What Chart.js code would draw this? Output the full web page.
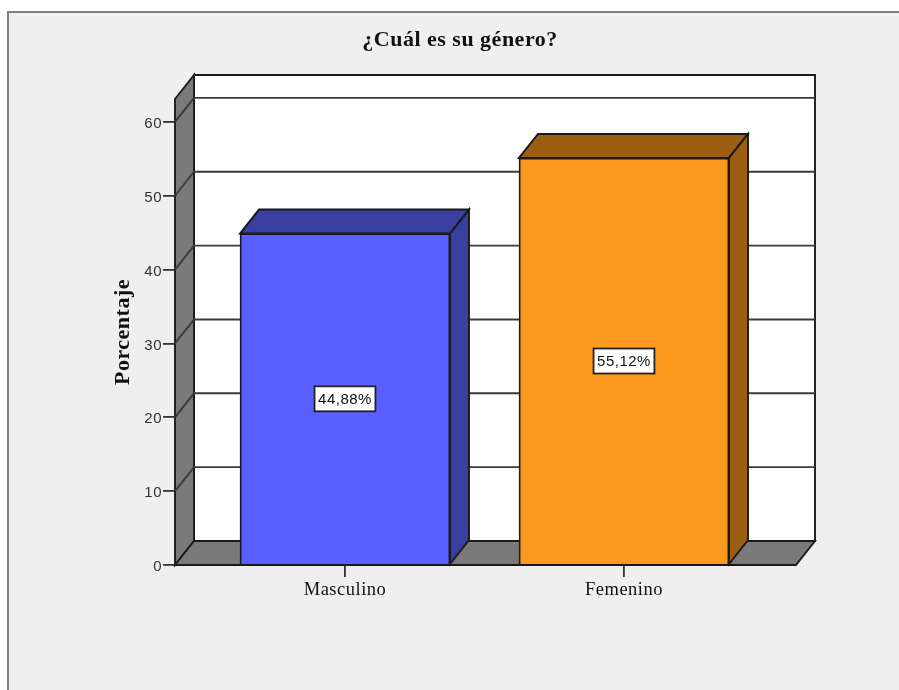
<!DOCTYPE html>
<html>
<head>
<meta charset="utf-8">
<script src="https://cdn.jsdelivr.net/npm/chart.js@4"></script>
<style>
  html, body { margin:0; padding:0; background:#fff; overflow:hidden; }
  #frame { position:absolute; left:7px; top:11px; width:892px; height:679px; background:#efefef;
           border-left:2px solid #808080; border-top:2px solid #808080; box-sizing:border-box; }
  #wrap { position:absolute; left:0; top:0; width:899px; height:690px; }
</style>
</head>
<body>
<div id="frame"></div>
<div id="wrap"><canvas id="c" width="899" height="690"></canvas></div>
<script>
const categories = ['Masculino', 'Femenino'];
const categoryPositions = [1, 2];
const porcentajes = [44.88, 55.12];
const etiquetas = ['44,88%', '55,12%'];
const frontColors = ['#5a5fff', '#fc991e'];
const sideColors = ['#3a3e9f', '#9c5e10'];
const yTickStep = 10;

const DEPTH_X = 19, DEPTH_Y = 24;
const LINE = '#1a1a1a';

function poly(ctx, pts, fill) {
  ctx.beginPath();
  pts.forEach(function(p, i) { i ? ctx.lineTo(p[0], p[1]) : ctx.moveTo(p[0], p[1]); });
  ctx.closePath();
  if (fill) { ctx.fillStyle = fill; ctx.fill(); }
  ctx.stroke();
}

// paredes, suelo y caras laterales de las barras
const caja3d = {
  id: 'caja3d',
  afterLayout(chart) {
    // el titulo va centrado a x=460 como en el original
    const t = chart.titleBlock;
    const shift = 460 - (t.left + t.right) / 2;
    t.left += shift; t.right += shift;
  },
  beforeDraw(chart) {
    // el texto del original esta algo mas espaciado
    chart.ctx.letterSpacing = '0.5px';
    // los numeros del eje y van 2px por debajo de su marca
    chart.scales.y.getLabelItems(chart.chartArea).forEach(function(it) {
      if (!it.moved) { it.options.translation[1] += 2; it.moved = true; }
    });
  },
  beforeDatasetsDraw(chart) {
    const ctx = chart.ctx, a = chart.chartArea, y = chart.scales.y;
    const l = a.left, r = a.right, b = a.bottom, t = a.top;
    ctx.save();
    ctx.lineWidth = 1.9;
    ctx.strokeStyle = LINE;
    // fondo
    poly(ctx, [[l + DEPTH_X, t - DEPTH_Y], [r + DEPTH_X, t - DEPTH_Y], [r + DEPTH_X, b - DEPTH_Y], [l + DEPTH_X, b - DEPTH_Y]], '#ffffff');
    // pared izquierda
    poly(ctx, [[l, t], [l + DEPTH_X, t - DEPTH_Y], [l + DEPTH_X, b - DEPTH_Y], [l, b]], '#7a7a7a');
    // suelo
    poly(ctx, [[l, b], [l + DEPTH_X, b - DEPTH_Y], [r + DEPTH_X, b - DEPTH_Y], [r, b]], '#7a7a7a');
    // rejilla
    y.ticks.forEach(function(tk) {
      if (tk.value === 0) return;
      const py = y.getPixelForValue(tk.value);
      ctx.beginPath();
      ctx.moveTo(l, py);
      ctx.lineTo(l + DEPTH_X, py - DEPTH_Y);
      ctx.lineTo(r + DEPTH_X, py - DEPTH_Y);
      ctx.strokeStyle = '#3a3a3a';
      ctx.stroke();
    });
    ctx.strokeStyle = LINE;
    // caras de las barras
    chart.getDatasetMeta(0).data.forEach(function(bar, i) {
      const x0 = bar.x - bar.width / 2, x1 = bar.x + bar.width / 2;
      poly(ctx, [[x0, bar.y], [x0 + DEPTH_X, bar.y - DEPTH_Y], [x1 + DEPTH_X, bar.y - DEPTH_Y], [x1, bar.y]], sideColors[i]);
      poly(ctx, [[x1, bar.y], [x1 + DEPTH_X, bar.y - DEPTH_Y], [x1 + DEPTH_X, bar.base - DEPTH_Y], [x1, bar.base]], sideColors[i]);
    });
    ctx.restore();
  },
  afterDatasetsDraw(chart) {
    const ctx = chart.ctx;
    ctx.save();
    ctx.font = '15px "Liberation Sans"';
    ctx.textAlign = 'center';
    ctx.textBaseline = 'middle';
    chart.getDatasetMeta(0).data.forEach(function(bar, i) {
      const cy = (bar.y + bar.base) / 2;
      const w = ctx.measureText(etiquetas[i]).width + 7, h = 25;
      ctx.fillStyle = '#fff';
      ctx.strokeStyle = '#222';
      ctx.lineWidth = 1.8;
      ctx.fillRect(bar.x - w / 2, cy - h / 2, w, h);
      ctx.strokeRect(bar.x - w / 2, cy - h / 2, w, h);
      ctx.fillStyle = '#111';
      ctx.fillText(etiquetas[i], bar.x, cy + 1);
    });
    ctx.restore();
  }
};

new Chart(document.getElementById('c'), {
  type: 'bar',
  data: {
    datasets: [{
      data: categoryPositions.map(function(p, i) { return { x: p, y: porcentajes[i] }; }),
      backgroundColor: frontColors,
      borderColor: LINE,
      borderWidth: 1.8,
      barThickness: 210
    }]
  },
  options: {
    responsive: false,
    animation: false,
    layout: { padding: { left: 0, right: 103, top: 0, bottom: 0 } },
    plugins: {
      legend: { display: false },
      tooltip: { enabled: false },
      title: {
        display: true,
        text: '¿Cuál es su género?',
        color: '#111',
        font: { family: '"Liberation Serif"', size: 22, weight: 'bold', lineHeight: 1 },
        padding: { top: 29, bottom: 48 }
      }
    },
    scales: {
      x: {
        type: 'linear',
        min: 0.3907,
        max: 2.6165,
        offset: false,
        grid: { offset: false, drawOnChartArea: false, tickLength: 12, color: '#333', lineWidth: 1.8 },
        border: { display: false },
        afterBuildTicks(s) { s.ticks = categoryPositions.map(function(p) { return { value: p }; }); },
        afterFit(s) { s.height = 125; },
        ticks: {
          color: '#111',
          padding: 2,
          maxRotation: 0,
          font: { family: '"Liberation Serif"', size: 18.5 },
          callback(v) { return categories[categoryPositions.indexOf(v)]; }
        }
      },
      y: {
        min: 0,
        max: 63.1,
        grid: { drawOnChartArea: false, tickLength: 12, color: '#333', lineWidth: 1.8 },
        border: { display: false },
        afterFit(s) { s.width = 175; },
        title: {
          display: true,
          text: 'Porcentaje',
          color: '#111',
          font: { family: '"Liberation Serif"', size: 22, weight: 'bold', lineHeight: 1 },
          padding: { top: 112, bottom: 0 }
        },
        ticks: {
          stepSize: yTickStep,
          includeBounds: false,
          color: '#333',
          padding: 1,
          font: { family: '"Liberation Sans"', size: 15 }
        }
      }
    }
  },
  plugins: [caja3d]
});
</script>
</body>
</html>
